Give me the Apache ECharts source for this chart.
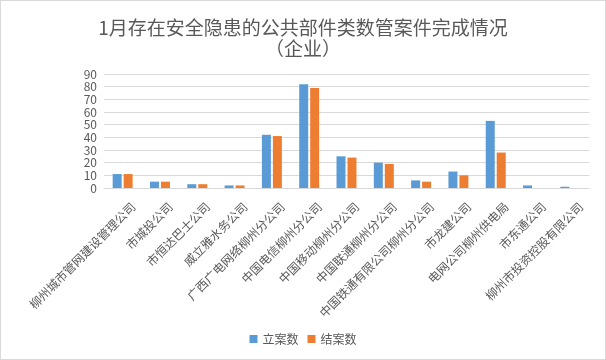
<!DOCTYPE html>
<html>
<head>
<meta charset="utf-8">
<script src="https://cdn.jsdelivr.net/npm/echarts@6/dist/echarts.min.js"></script>
<style>
  html, body { margin: 0; padding: 0; background: #fff; }
  #chart { width: 604px; height: 358px; border: 1px solid #d9d9d9; }
</style>
</head>
<body>
<div id="chart"></div>
<script>
// 单位名称
const companies = [
    '柳州城市管网建设管理公司', '市城投公司', '市恒达巴士公司', '威立雅水务公司',
    '广西广电网络柳州分公司', '中国电信柳州分公司', '中国移动柳州分公司', '中国联通柳州分公司',
    '中国铁通有限公司柳州分公司', '市龙建公司', '电网公司柳州供电局', '市东通公司',
    '柳州市投资控股有限公司'
];
const filedCases = [11, 5, 3, 2, 42, 82, 25, 20, 6, 13, 53, 2, 1];   // 立案数
const closedCases = [11, 5, 3, 2, 41, 79, 24, 19, 5, 10, 28, 0, 0];  // 结案数
const yTicks = [0, 10, 20, 30, 40, 50, 60, 70, 80, 90];

const fontFamily = '"Noto Sans CJK SC", "Liberation Sans", sans-serif';
const textColor = '#595959';

let myChart = echarts.init(document.getElementById('chart'));
myChart.setOption({
    animation: false,
    title: {
        text: '1月存在安全隐患的公共部件类数管案件完成情况\n（企业）',
        left: 'center',
        top: 11,
        textStyle: {
            fontFamily: fontFamily,
            fontSize: 19,
            fontWeight: 'normal',
            color: textColor,
            lineHeight: 21
        }
    },
    legend: {
        bottom: 9,
        left: 'center',
        itemWidth: 8,
        itemHeight: 8,
        itemGap: 9,
        icon: 'rect',
        textStyle: { fontFamily: fontFamily, fontSize: 12, color: textColor }
    },
    grid: {
        left: 103,
        right: 16,
        top: 73,
        bottom: 171,
        containLabel: false
    },
    xAxis: {
        type: 'category',
        data: companies,
        axisLine: { lineStyle: { color: '#d9d9d9' } },
        axisTick: { show: false },
        axisLabel: {
            interval: 0,
            rotate: 45,
            fontFamily: fontFamily,
            fontSize: 12,
            color: textColor,
            margin: 6,
            verticalAlign: 'top',
            lineHeight: 30
        }
    },
    yAxis: {
        type: 'value',
        min: yTicks[0],
        max: yTicks[yTicks.length - 1],
        interval: 10,
        axisLine: { show: false },
        axisTick: { show: false },
        splitLine: { lineStyle: { color: '#d9d9d9', width: 1 } },
        axisLabel: {
            fontFamily: fontFamily,
            fontSize: 12,
            color: textColor,
            margin: 7
        }
    },
    series: [
        {
            name: '立案数',
            type: 'bar',
            data: filedCases,
            barWidth: 9,
            barGap: '22%',
            itemStyle: { color: '#5b9bd5' }
        },
        {
            name: '结案数',
            type: 'bar',
            data: closedCases,
            barWidth: 9,
            itemStyle: { color: '#ed7d31' }
        }
    ]
});
</script>
</body>
</html>
